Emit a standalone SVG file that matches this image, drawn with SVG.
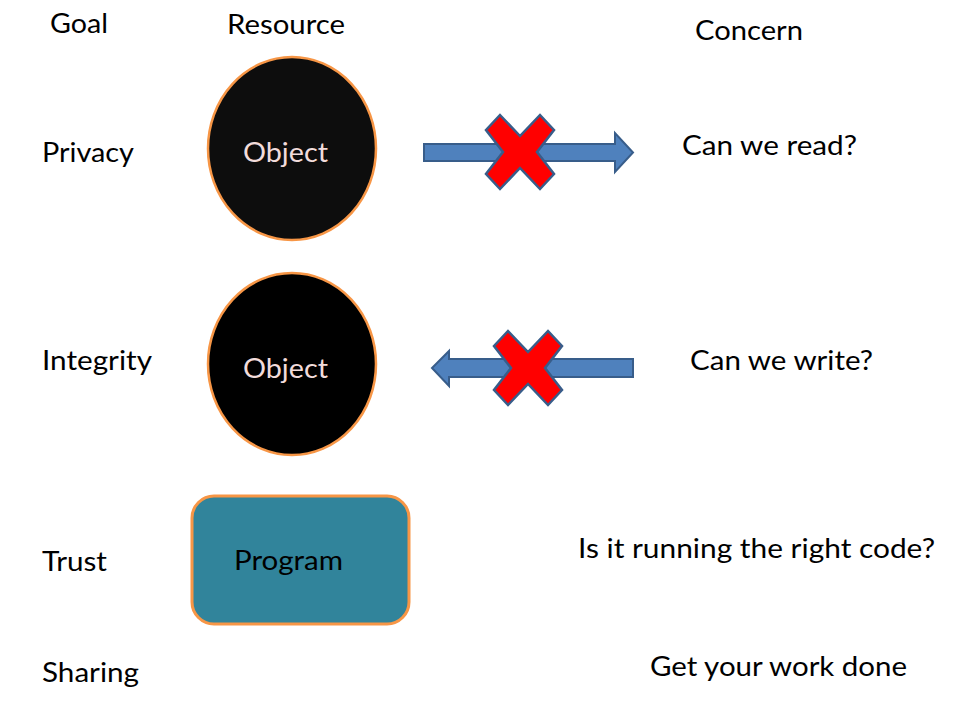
<svg xmlns="http://www.w3.org/2000/svg" width="960" height="720" viewBox="0 0 960 720">
<style>
text{font-family:Lato,"Open Sans","Liberation Sans",sans-serif;font-size:27px;fill:#000}
.lbl{fill:#f2dcdb}
.obj{stroke:#f79646;stroke-width:2.5}
.arrow{fill:#4f81bd;stroke:#385d8a;stroke-width:2}
.x{fill:#ff0000;stroke:#385d8a;stroke-width:2.5;stroke-linejoin:miter}
</style>
<defs>
<polygon id="xmark" class="x" points="-20,-37 0,-16 20,-37 34,-22 17,0 34,22 20,37 0,16 -20,37 -34,22 -17,0 -34,-22"/>
</defs>
<rect width="960" height="720" fill="#fff"/>
<g id="headers">
<text x="50" y="33" textLength="58" lengthAdjust="spacingAndGlyphs">Goal</text>
<text x="227" y="34" textLength="118" lengthAdjust="spacingAndGlyphs">Resource</text>
<text x="695" y="40" textLength="108" lengthAdjust="spacingAndGlyphs">Concern</text>
</g>
<g id="goals">
<text x="42" y="162" textLength="92" lengthAdjust="spacingAndGlyphs">Privacy</text>
<text x="42" y="370" textLength="110" lengthAdjust="spacingAndGlyphs">Integrity</text>
<text x="42" y="571" textLength="65" lengthAdjust="spacingAndGlyphs">Trust</text>
<text x="42" y="682" textLength="97" lengthAdjust="spacingAndGlyphs">Sharing</text>
</g>
<g id="object1">
<ellipse class="obj" cx="292" cy="148.5" rx="84" ry="91.5" fill="#0d0d0d"/>
<text class="lbl" x="243" y="162" textLength="85" lengthAdjust="spacingAndGlyphs">Object</text>
</g>
<g id="object2">
<ellipse class="obj" cx="292" cy="364" rx="84" ry="91" fill="#000"/>
<text class="lbl" x="243" y="378" textLength="85" lengthAdjust="spacingAndGlyphs">Object</text>
</g>
<g id="program">
<rect x="192" y="496" width="217" height="128" rx="22" fill="#31849b" stroke="#f79646" stroke-width="3"/>
<text x="234" y="570" textLength="109" lengthAdjust="spacingAndGlyphs">Program</text>
</g>
<g id="concerns">
<text x="682" y="155" textLength="175" lengthAdjust="spacingAndGlyphs">Can we read?</text>
<text x="690" y="370" textLength="183" lengthAdjust="spacingAndGlyphs">Can we write?</text>
<text x="578" y="558" textLength="357" lengthAdjust="spacingAndGlyphs">Is it running the right code?</text>
<text x="650" y="676" textLength="257" lengthAdjust="spacingAndGlyphs">Get your work done</text>
</g>
<g id="connectors">
<polygon class="arrow" points="424,144 615,144 615,133 633,152.5 615,172 615,161 424,161"/>
<use href="#xmark" x="520" y="152"/>
<polygon class="arrow" points="633,359 449,359 449,351 432,368 449,386 449,377 633,377"/>
<use href="#xmark" x="528" y="368"/>
</g>
</svg>
